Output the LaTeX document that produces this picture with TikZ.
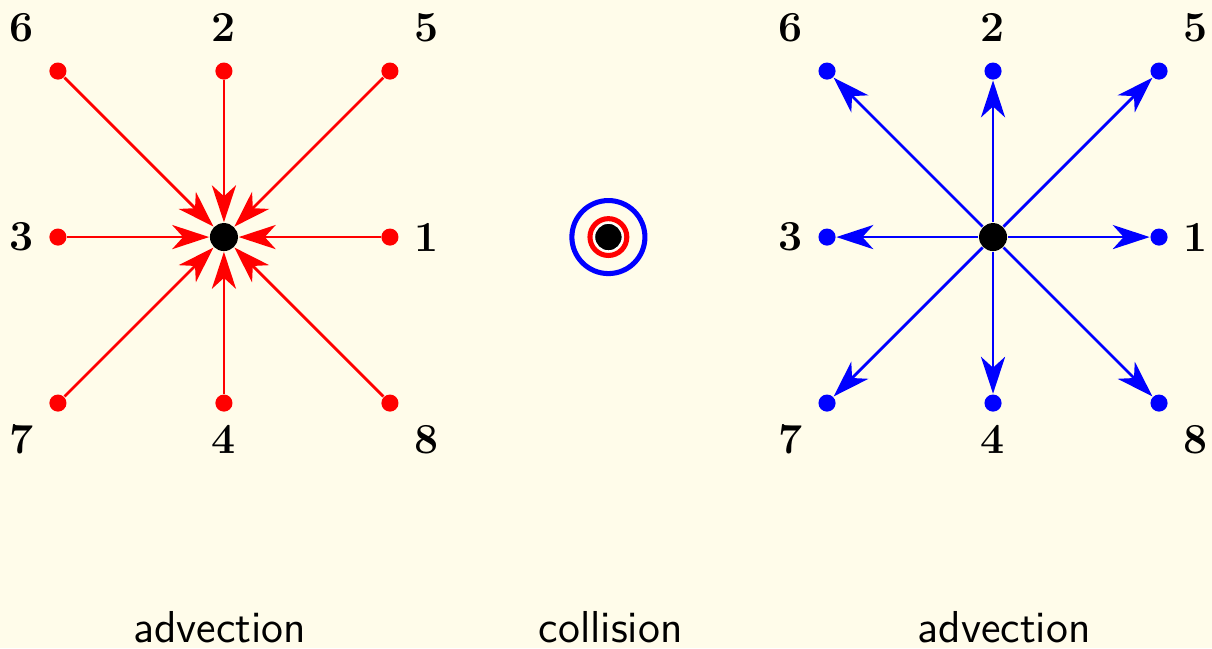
\documentclass[tikz,border=0pt]{standalone}
\usepackage{tikz}
\usetikzlibrary{arrows.meta}
\definecolor{hintergrund}{RGB}{255,252,234}

\begin{document}
\begin{tikzpicture}[x=1.5cm, y=1.5cm,
			>={Stealth[length=9.5pt, width=6.2pt, inset=2.8pt]},   %Pfeilspitzen
			punkt/.style={circle, fill, inner sep=0pt, minimum size=4.4pt},
			mitte/.style={circle, fill=black, inner sep=0pt, minimum size=7.2pt},
			pfeil/.style={line width=0.7pt, ->},
			zahl/.style={font=\fontsize{11}{13.6}\selectfont\bfseries},
			titel/.style={font=\fontsize{11.5}{14}\selectfont\sffamily}]
			%Hintergrund
			\useasboundingbox[fill=hintergrund] (-1.349,-2.476) rectangle (5.952,1.428);
			% Advektion links (einstroemend)
			\node[mitte] (lc) at (0,0) {};
			\foreach \n/\x/\y/\lx/\ly in {1/1/0/1.22/0, 2/0/1/0/1.26, 3/-1/0/-1.22/0, 4/0/-1/0/-1.22,
				5/1/1/1.22/1.26, 6/-1/1/-1.22/1.26, 7/-1/-1/-1.22/-1.22, 8/1/-1/1.22/-1.22}
			{
				\node[punkt, red] (l\n) at (\x,\y) {};
				\node[zahl] (lz\n) at (\lx,\ly) {\n};
				\draw[red, pfeil] (l\n) -- (lc);
			}
			% Kollision
			\coordinate (kc) at (2.316,0);
			\draw[blue, line width=1.3pt] (kc) circle (0.22);
			\draw[red, line width=1.3pt] (kc) circle (0.111);
			\node[mitte, draw=white, line width=0.4pt] (kz) at (kc) {};
			% Advektion rechts (ausstroemend)
			\node[mitte] (rc) at (4.633,0) {};
			\foreach \n/\x/\y/\lx/\ly in {1/1/0/1.22/0, 2/0/1/0/1.26, 3/-1/0/-1.22/0, 4/0/-1/0/-1.22,
				5/1/1/1.22/1.26, 6/-1/1/-1.22/1.26, 7/-1/-1/-1.22/-1.22, 8/1/-1/1.22/-1.22}
			{
				\node[punkt, blue] (r\n) at (4.633+\x,\y) {};
				\node[zahl] (rz\n) at (4.633+\lx,\ly) {\n};
				\draw[blue, pfeil] (rc) -- (r\n);
			}
			%Beschriftung
			\node[titel] (ta) at (-0.025,-2.35) {advection};
			\node[titel] (tk) at (2.33,-2.35) {collision};
			\node[titel] (tb) at (4.70,-2.35) {advection};
		\end{tikzpicture}
\end{document}
